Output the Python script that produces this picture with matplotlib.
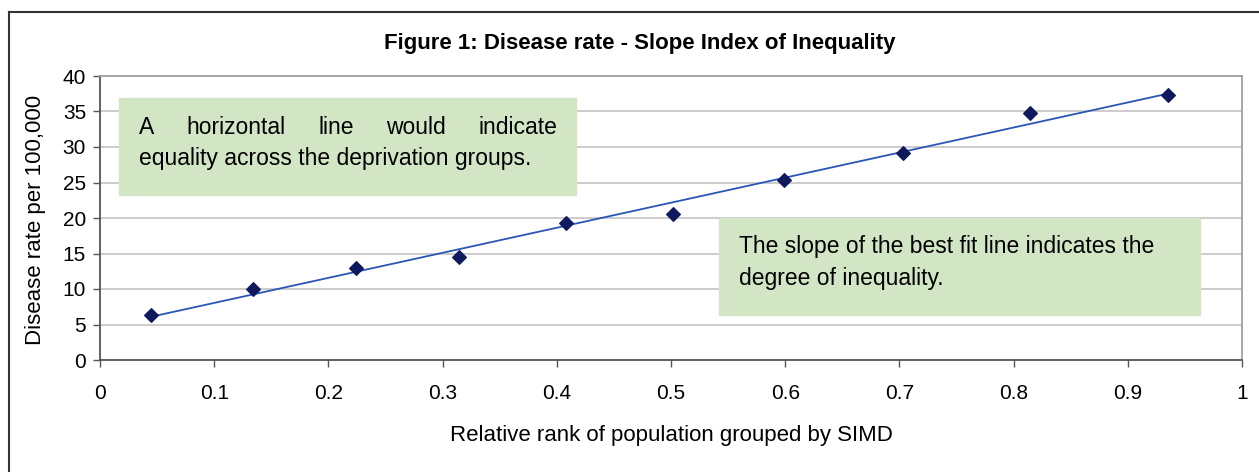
import matplotlib.pyplot as plt
from matplotlib.lines import Line2D
import numpy as np

plt.rcParams['font.family'] = ['Liberation Sans', 'DejaVu Sans']

# relative rank (midpoint of each SIMD group) and disease rate per 100,000
rank = [0.045, 0.134, 0.224, 0.314, 0.408, 0.502, 0.599, 0.703, 0.814, 0.935]
rate = [6.3, 10.0, 12.9, 14.5, 19.3, 20.6, 25.3, 29.2, 34.8, 37.3]

title = 'Figure 1: Disease rate - Slope Index of Inequality'
note1 = ['A horizontal line would indicate', 'equality across the deprivation groups.']
note2 = ['The slope of the best fit line indicates the', 'degree of inequality.']

W, H = 1259, 472
fig = plt.figure(figsize=(W / 100, H / 100), dpi=100)
ax = fig.add_axes([100 / W, 1 - 360 / H, 1142 / W, 284 / H])

# best fit line
k, b = np.polyfit(rank, rate, 1)
xs = np.array([min(rank), max(rank)])
ax.plot(xs, k * xs + b, color='#2a56b8', lw=1.3, zorder=3)
ax.scatter(rank, rate, marker='D', s=48, color='#0f1a5e', zorder=4)

ax.set_xlim(0, 1)
ax.set_ylim(0, 40)
ax.set_xticks(np.arange(0, 1.01, 0.1))
ax.set_xticklabels(['0', '0.1', '0.2', '0.3', '0.4', '0.5', '0.6', '0.7', '0.8', '0.9', '1'])
ax.set_yticks(range(0, 41, 5))
ax.yaxis.grid(True, color='#c8c8c8', lw=1.3)
ax.set_axisbelow(True)
ax.tick_params(labelsize=15, length=5, width=1, color='#555555')
ax.tick_params(axis='y', pad=5)
ax.tick_params(axis='x', pad=12)
for s in ['top', 'right']:
    ax.spines[s].set_color('#a0a0a0')
    ax.spines[s].set_linewidth(1.3)
for s in ['left', 'bottom']:
    ax.spines[s].set_color('#555555')
    ax.spines[s].set_linewidth(1.3)

ax.set_xlabel('Relative rank of population grouped by SIMD', fontsize=16, va='center')
ax.xaxis.set_label_coords(571 / 1142, (360 - 435) / 284)
ax.set_ylabel('Disease rate per 100,000', fontsize=16, va='center')
ax.yaxis.set_label_coords((36 - 100) / 1142, (360 - 220) / 284)
fig.text(640 / W, 1 - 44 / H, title, fontsize=16, fontweight='bold', ha='center', va='center')

FS = 16.5


def box(x0, y0, x1, y1):
    fig.patches.append(plt.Rectangle((x0 / W, 1 - y1 / H), (x1 - x0) / W, (y1 - y0) / H,
                                     transform=fig.transFigure, color='#d2e6c6', zorder=5))


def justify(words, x0, x1, y):
    # spread the words of a line evenly between x0 and x1
    r = fig.canvas.get_renderer()
    ts = [fig.text(0, 1 - y / H, w, fontsize=FS, va='center', zorder=6) for w in words]
    ws = [t.get_window_extent(r).width for t in ts]
    gap = (x1 - x0 - sum(ws)) / (len(words) - 1)
    x = x0
    for t, w in zip(ts, ws):
        t.set_x(x / W)
        x += w + gap


box(119, 98, 576, 195)
justify(note1[0].split(), 139, 557, 128)
fig.text(139 / W, 1 - 159 / H, note1[1], fontsize=FS, va='center', zorder=6)

box(719, 218, 1200, 315)
fig.text(739 / W, 1 - 246 / H, note2[0], fontsize=FS, va='center', zorder=6)
fig.text(739 / W, 1 - 278 / H, note2[1], fontsize=FS, va='center', zorder=6)

# outer frame (top and left edges)
fig.add_artist(Line2D([8.5 / W, 1], [1 - 12 / H, 1 - 12 / H], color='#333333', lw=1.5))
fig.add_artist(Line2D([8.5 / W, 8.5 / W], [1 - 12 / H, 0], color='#333333', lw=1.5))

fig.savefig('out.png', dpi=100)
